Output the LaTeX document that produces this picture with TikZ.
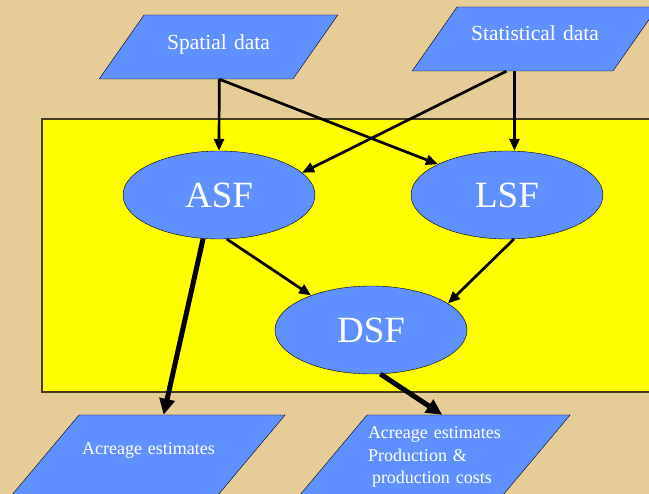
\documentclass[tikz,border=0pt]{standalone}
\usepackage{fontspec}
\setmainfont{Liberation Serif}
\usetikzlibrary{shapes.geometric,arrows.meta,calc}
\definecolor{tanbg}{RGB}{230,204,150}
\definecolor{boxblue}{RGB}{96,144,255}
\definecolor{panelyellow}{RGB}{255,255,0}
\definecolor{paneledge}{RGB}{70,60,30}

\begin{document}
\begin{tikzpicture}[x=1pt, y=-1pt]

\tikzstyle{data}=[trapezium, trapezium left angle=55, trapezium right angle=125, draw, fill=boxblue, text=white, inner xsep=0pt, align=center, font=\fontsize{21.5}{24}\selectfont]
\tikzstyle{result}=[data, trapezium left angle=50, trapezium right angle=130, font=\fontsize{18}{22.5}\selectfont]
\tikzstyle{module}=[ellipse, draw, fill=boxblue, text=white, minimum width=192pt, minimum height=88pt, inner sep=0pt, font=\fontsize{37}{40}\selectfont]
\tikzstyle{arrow}=[-{Triangle[length=12pt,width=10pt]}, line width=2.7pt]
\tikzstyle{bigarrow}=[-{Triangle[length=16pt,width=15pt]}, line width=5pt]

\useasboundingbox (0,0) rectangle (649,494);
\clip (0,0) rectangle (649,494);
\fill [tanbg] (0,0) rectangle (649,494);
\draw [fill=panelyellow, draw=paneledge, line width=1.5pt] (42,119) rectangle (670,392);

\node (spatial) [data, text width=149pt, inner ysep=17pt, text height=18pt, text depth=12pt] at (218.5,47) {Spatial data};
\node (stat) [data, text width=156pt, inner ysep=17pt, text height=17pt, text depth=13pt] at (535,39) {Statistical data};

\node (asf) [module] at (219,195) {ASF};
\node (lsf) [module] at (507,195) {LSF};
\node (dsf) [module] at (371,330) {DSF};

\node (acre) [result, text width=139pt, inner ysep=25pt, text height=15pt, text depth=15pt] at (148.5,455) {Acreage estimates};
\node (cost) [result, text width=134pt, inner xsep=1pt, align=left, inner ysep=9pt, text height=15pt, text depth=47pt] at (435,455) {Acreage estimates\\Production \&\\\hspace*{4pt}production costs};

\coordinate (spatialout) at ($(spatial.bottom left corner)!0.62!(spatial.bottom right corner)$);
\coordinate (statout) at ($(stat.bottom left corner)!0.51!(stat.bottom right corner)$);
\coordinate (statcross) at ($(stat.bottom left corner)!0.47!(stat.bottom right corner)$);
\coordinate (acrein) at ($(acre.top left corner)!0.41!(acre.top right corner)$);
\coordinate (costin) at ($(cost.top left corner)!0.37!(cost.top right corner)$);

\draw [arrow] (spatialout) -- (asf.north);
\draw [arrow] (spatialout) -- (lsf.156);
\draw [arrow] (statout) -- (statout |- lsf.north);
\draw [arrow] (statcross) -- (asf.15);
\draw [arrow] (asf.-80) -- (dsf.150);
\draw [arrow] (lsf.-81) -- (dsf.19);
\draw [bigarrow] (asf.-110) -- (acrein);
\draw [bigarrow] (dsf.-78) -- (costin);

\end{tikzpicture}
\end{document}
